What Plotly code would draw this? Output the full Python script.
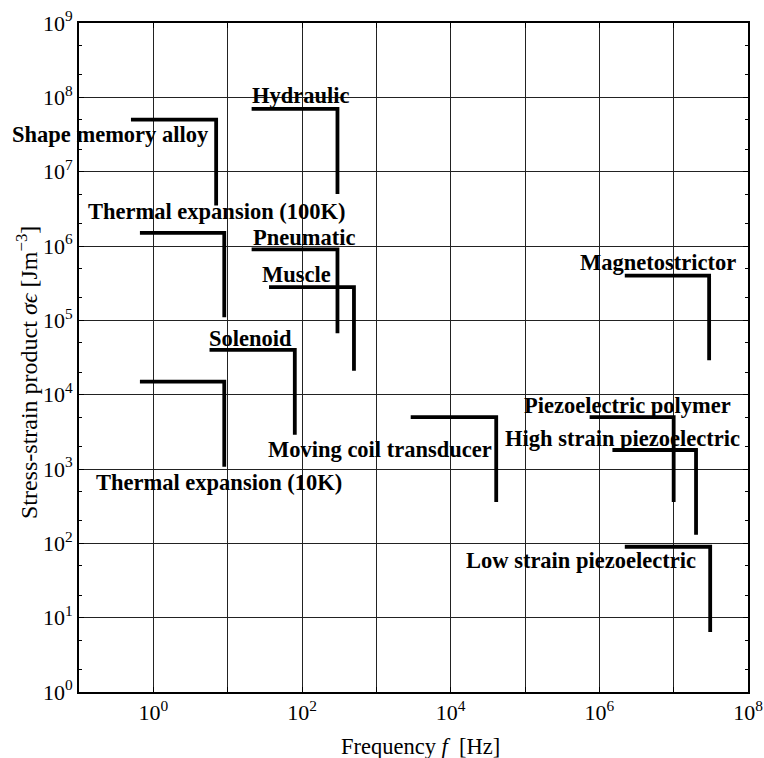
import plotly.graph_objects as go

# Actuator operating envelopes: frequency range and stress-strain product range
actuators = [
    "Shape memory alloy", "Hydraulic", "Thermal expansion (100K)", "Pneumatic",
    "Muscle", "Solenoid", "Thermal expansion (10K)", "Moving coil transducer",
    "Magnetostrictor", "Piezoelectric polymer", "High strain piezoelectric",
    "Low strain piezoelectric",
]
f_low = [0.5, 21, 0.66, 21, 36, 5.7, 0.66, 2.9e3, 2.2e6, 7.4e5, 1.5e6, 2.2e6]
f_high = [7, 300, 9, 300, 500, 80, 9, 4.1e4, 3e7, 1e7, 2e7, 3.1e7]
se_high = [5e7, 7e7, 1.5e6, 9e5, 2.8e5, 4e4, 1.5e4, 5e3, 4e5, 5e3, 1.8e3, 90]
se_low = [3.5e6, 5e6, 1.1e5, 6.7e4, 2.1e4, 2.9e3, 1.07e3, 360, 2.9e4, 360, 130, 6.4]

# Label anchor points (log10 units)
label_logx = [-0.57, 1.99, 0.86, 2.03, 1.92, 1.31, 0.89, 3.05, 6.79, 6.38, 6.31, 5.75]
label_logy = [7.50, 8.02, 6.46, 6.12, 5.61, 4.76, 2.82, 3.26, 5.78, 3.86, 3.41, 1.77]

x_decades = list(range(-1, 9))
y_decades = list(range(0, 10))

serif = "Liberation Serif"

fig = go.Figure()
for name, a, b, top, bot in zip(actuators, f_low, f_high, se_high, se_low):
    fig.add_trace(go.Scatter(
        x=[a, b, b], y=[top, top, bot], mode="lines", name=name,
        line=dict(color="black", width=3.8), showlegend=False,
        hoverinfo="name",
    ))

# Invisible trace that carries the right-hand y axis (minor ticks on the right)
fig.add_trace(go.Scatter(x=[f_low[0]], y=[se_high[0]], yaxis="y2",
                         mode="markers", marker=dict(opacity=0),
                         showlegend=False, hoverinfo="skip"))

for name, lx, ly in zip(actuators, label_logx, label_logy):
    fig.add_annotation(
        x=lx, y=ly, xref="x", yref="y", text=f"<b>{name}</b>",
        showarrow=False, font=dict(family=serif, size=22.5, color="black"),
        xanchor="center", yanchor="middle",
    )

# Axis titles
fig.add_annotation(
    x=0.511, y=-0.081, xref="paper", yref="paper",
    text="Frequency <i>f</i>  [Hz]", showarrow=False,
    font=dict(family=serif, size=22.5, color="black"),
    xanchor="center", yanchor="middle",
)
fig.add_annotation(
    x=-0.078, y=0.478, xref="paper", yref="paper", textangle=-90,
    text="Stress-strain product <i>σϵ</i> [Jm<sup>−3</sup>]", showarrow=False,
    font=dict(family=serif, size=24, color="black"),
    xanchor="center", yanchor="middle",
)

x_ticktext = [f"10<sup>{d}</sup>" if d % 2 == 0 else "" for d in x_decades]
y_ticktext = [f"10<sup>{d}</sup>" for d in y_decades]

fig.update_xaxes(
    type="log", range=[-1, 8], automargin=False,
    tickvals=[10.0 ** d for d in x_decades], ticktext=x_ticktext,
    showgrid=True, gridcolor="#222", gridwidth=1,
    showline=True, linecolor="black", linewidth=2, mirror="ticks",
    ticks="inside", ticklen=5, tickcolor="black",
    tickfont=dict(family=serif, size=22, color="black"),
    zeroline=False,
)
fig.update_yaxes(
    type="log", range=[0, 9], automargin=False,
    tickvals=[10.0 ** d for d in y_decades], ticktext=y_ticktext,
    showgrid=True, gridcolor="#222", gridwidth=1,
    showline=True, linecolor="black", linewidth=2, mirror="ticks",
    ticks="inside", ticklen=5, tickcolor="black",
    tickfont=dict(family=serif, size=22, color="black"),
    minor=dict(ticks="inside", ticklen=3, tickcolor="black", showgrid=False),
    zeroline=False,
)

fig.update_layout(
    width=764, height=758,
    margin=dict(l=79, r=16, t=23, b=66),
    plot_bgcolor="white", paper_bgcolor="white",
    font=dict(family=serif, color="black"),
    yaxis2=dict(
        type="log", range=[0, 9], overlaying="y", side="right",
        automargin=False, showgrid=False, zeroline=False,
        showticklabels=False, ticks="inside", ticklen=5, tickcolor="black",
        tickvals=[10.0 ** d for d in y_decades],
        minor=dict(ticks="inside", ticklen=3, tickcolor="black", showgrid=False),
    ),
)

fig.write_html("out.html")
